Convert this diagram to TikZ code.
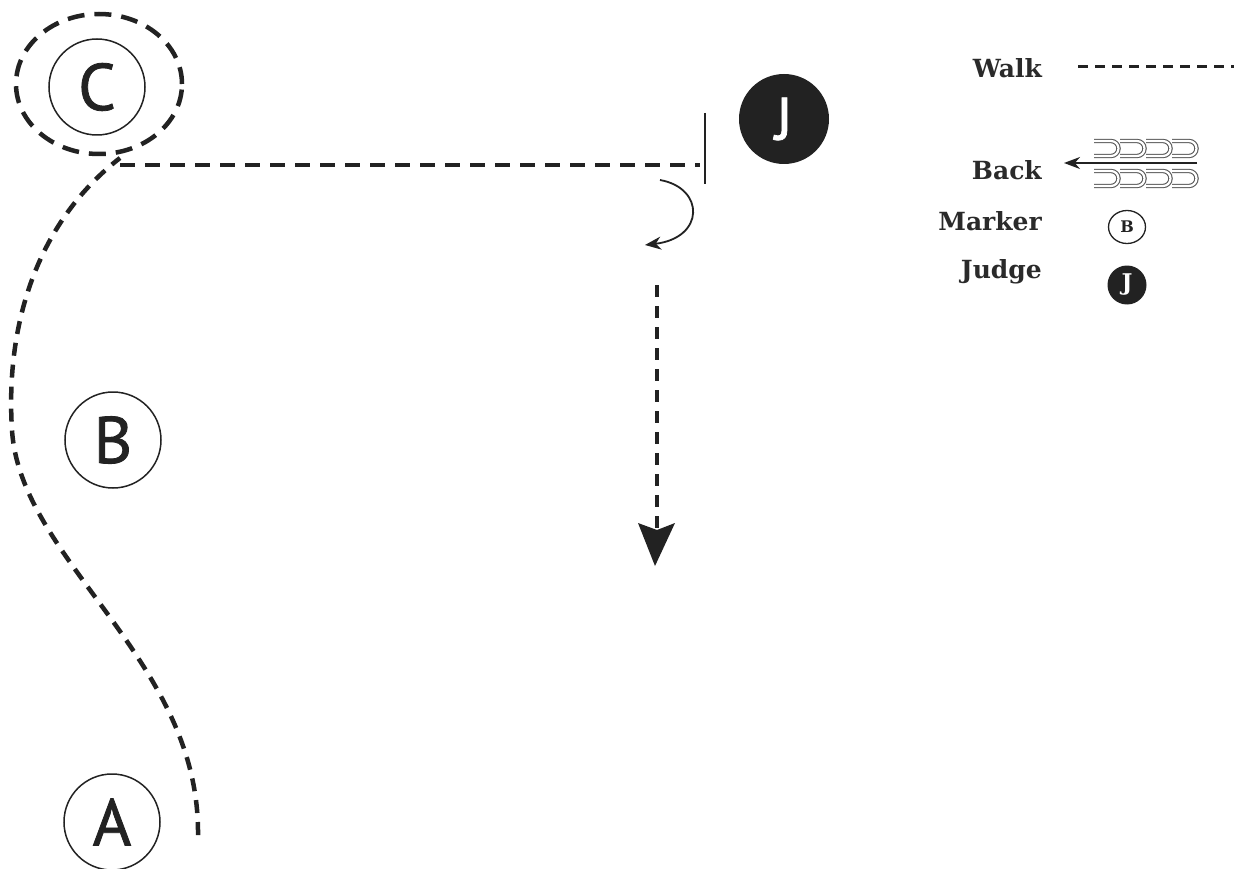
\documentclass[tikz,border=0pt]{standalone}
\usepackage{fontspec}
\setmainfont{DejaVu Serif}
\newfontfamily\letterfont[FakeBold=1.2]{PT Sans}
\usetikzlibrary{arrows.meta,shapes.geometric}
\definecolor{ink}{HTML}{222222}
\definecolor{legtext}{HTML}{2a2a2a}
\begin{document}
\begin{tikzpicture}[x=1pt,y=-1pt,
  marker/.style={circle,draw=ink,line width=1.5pt,minimum size=96pt,inner sep=0pt,font=\letterfont\fontsize{66}{66}\selectfont,text=ink},
  judge/.style={circle,fill=ink,minimum size=90pt,inner sep=0pt,font=\letterfont\fontsize{60}{60}\selectfont,text=white},
  walkline/.style={draw=ink,line width=4.5pt,dash pattern=on 13pt off 9pt},
  legtxt/.style={anchor=east,font=\bfseries\fontsize{25}{25}\selectfont,text=legtext,inner sep=0pt},
  horse/.style={draw=gray!70!black,line width=1.1pt,double=white,double distance=2.2pt}
]
\useasboundingbox (0,0) rectangle (1237,869);
\fill[white] (0,0) rectangle (1237,869);

% markers
\node[marker] (C) at (97,87) {C};
\node[marker] (B) at (113,440) {B};
\node[marker] (A) at (112,822) {A};
\node[judge] (J) at (784,119) {J};

% dashed ellipse around C
\draw[draw=ink,line width=4.5pt,dash pattern=on 17pt off 10pt] (99,84) ellipse [x radius=83pt,y radius=70pt];

% walk path A -> C
\coordinate (w0) at (198,835);
\coordinate (w1) at (12,430);
\coordinate (w2) at (120,158);
\draw[walkline] (w0) .. controls (200,660) and (20,560) .. (w1)
  .. controls (5,320) and (40,220) .. (w2);

% horizontal dashed line
\coordinate (h0) at (120,165);
\coordinate (h1) at (700,165);
\draw[draw=ink,line width=4pt,dash pattern=on 15pt off 10pt] (h0) -- (h1);

% halt bar
\coordinate (bar0) at (705,113);
\coordinate (bar1) at (705,184);
\draw[ink,line width=2.5pt] (bar0) -- (bar1);

% curved arrow (turn)
\coordinate (t0) at (660,180);
\coordinate (t1) at (645,245);
\draw[ink,line width=1.8pt,-{Stealth[length=16pt,width=13pt]}] (t0) .. controls (705,188) and (705,238) .. (t1);

% back dashed arrow
\coordinate (d0) at (657,285);
\coordinate (d1) at (657,532);
\draw[draw=ink,line width=4.5pt,dash pattern=on 12pt off 9pt] (d0) -- (d1);
\fill[ink] (638,523) -- (657,530) -- (675,523) -- (655,566) -- cycle;

% legend
\node[legtxt] (lw) at (1042,68) {Walk};
\coordinate (lw0) at (1078,67);
\coordinate (lw1) at (1234,67);
\draw[draw=ink,line width=3pt,dash pattern=on 10pt off 7pt] (lw0) -- (lw1);

\node[legtxt] (lb) at (1042,170) {Back};
\coordinate (ba0) at (1197,163);
\coordinate (ba1) at (1064,163);
\draw[ink,line width=1.8pt,-{Stealth[length=16pt,width=12pt]}] (ba0) -- (ba1);
\foreach \x in {1094,1120,1146,1172}{
  \draw[horse] (\x,141) -- (\x+17,141) arc[start angle=90,end angle=-90,radius=7.5pt] -- (\x,156);
  \draw[horse] (\x,171) -- (\x+17,171) arc[start angle=90,end angle=-90,radius=7.5pt] -- (\x,186);
}

\node[legtxt] (lm) at (1042,221) {Marker};
\node[draw=ink,line width=1.3pt,ellipse,minimum width=37pt,minimum height=33pt,inner sep=0pt,font=\bfseries\fontsize{16}{16}\selectfont,text=ink] (mB) at (1127,227) {B};

\node[legtxt] (lj) at (1042,272) {Judge};
\node[circle,fill=ink,minimum size=39pt,inner sep=0pt,font=\bfseries\fontsize{23}{23}\selectfont,text=white] (mJ) at (1127,285) {J};
\end{tikzpicture}
\end{document}
